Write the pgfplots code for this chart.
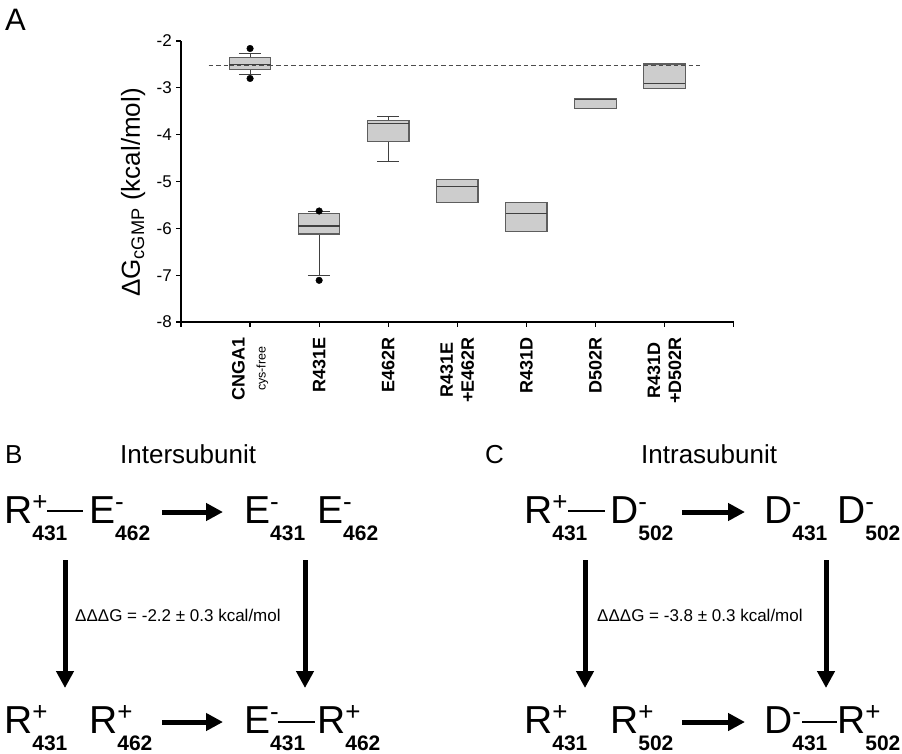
\documentclass[border=0pt]{standalone}
\usepackage{fontspec}
\setmainfont{Liberation Sans}
\usepackage{pgfplots}
\pgfplotsset{compat=1.18}
\usetikzlibrary{arrows.meta}
\definecolor{boxfill}{HTML}{CDCDCD}
\definecolor{boxedge}{HTML}{5E5E5E}
\newcommand{\res}[3]{{\fontsize{39}{40}\selectfont #1}\rlap{\raisebox{13pt}{\fontsize{26}{26}\selectfont #2}}\raisebox{-17pt}{\fontsize{21}{21}\selectfont\bfseries #3}}
\pgfplotsset{
  boxstyle/.style={draw=boxedge, fill=boxfill, line width=1.2pt, line join=miter},
  whisk/.style={draw=black!75, line width=0.9pt},
  med/.style={draw=black!75, line width=1.2pt},
  refline/.style={draw=black!70, dash pattern=on 4.5pt off 3pt, line width=1.1pt},
}
\begin{document}
\begin{tikzpicture}
\useasboundingbox (0,0) rectangle (902pt,753pt);
% ---------- frame axis (pixel coordinates) for panels B and C ----------
\begin{axis}[at={(0pt,0pt)}, anchor=south west, width=902pt, height=753pt,
  scale only axis, xmin=0, xmax=902, ymin=0, ymax=753, y dir=reverse,
  hide axis, clip=false]
\node[anchor=base west, inner sep=0pt, font=\fontsize{31}{31}\selectfont] at (axis cs:5,30) {A};
\node[anchor=base west, inner sep=0pt, font=\fontsize{26}{26}\selectfont] at (axis cs:5,463) {B};
\node[anchor=base west, inner sep=0pt, font=\fontsize{26}{26}\selectfont] at (axis cs:120,463) {Intersubunit};
\node[anchor=base west, inner sep=0pt, font=\fontsize{26}{26}\selectfont] at (axis cs:485,463) {C};
\node[anchor=base west, inner sep=0pt, font=\fontsize{26}{26}\selectfont] at (axis cs:641,463) {Intrasubunit};
% panel B species
\node[anchor=base west, inner sep=0pt] at (axis cs:4,523) {\res{R}{+}{431}};
\node[anchor=base west, inner sep=0pt] at (axis cs:89,523) {\res{E}{-}{462}};
\node[anchor=base west, inner sep=0pt] at (axis cs:244,523) {\res{E}{-}{431}};
\node[anchor=base west, inner sep=0pt] at (axis cs:317,523) {\res{E}{-}{462}};
\node[anchor=base west, inner sep=0pt] at (axis cs:4,733) {\res{R}{+}{431}};
\node[anchor=base west, inner sep=0pt] at (axis cs:89,733) {\res{R}{+}{462}};
\node[anchor=base west, inner sep=0pt] at (axis cs:244,733) {\res{E}{-}{431}};
\node[anchor=base west, inner sep=0pt] at (axis cs:317,733) {\res{R}{+}{462}};
% panel C species
\node[anchor=base west, inner sep=0pt] at (axis cs:524,523) {\res{R}{+}{431}};
\node[anchor=base west, inner sep=0pt] at (axis cs:610,523) {\res{D}{-}{502}};
\node[anchor=base west, inner sep=0pt] at (axis cs:764,523) {\res{D}{-}{431}};
\node[anchor=base west, inner sep=0pt] at (axis cs:837,523) {\res{D}{-}{502}};
\node[anchor=base west, inner sep=0pt] at (axis cs:524,733) {\res{R}{+}{431}};
\node[anchor=base west, inner sep=0pt] at (axis cs:610,733) {\res{R}{+}{502}};
\node[anchor=base west, inner sep=0pt] at (axis cs:764,733) {\res{D}{-}{431}};
\node[anchor=base west, inner sep=0pt] at (axis cs:837,733) {\res{R}{+}{502}};
% bonds
\draw[line width=1.4pt] (axis cs:47,511) -- (axis cs:83,511);
\draw[line width=1.4pt] (axis cs:278,722) -- (axis cs:315,722);
\draw[line width=1.4pt] (axis cs:568,511) -- (axis cs:605,511);
\draw[line width=1.4pt] (axis cs:802,722) -- (axis cs:837,722);
% arrows
\begin{scope}[line width=5pt, -{Triangle[length=17pt,width=17pt]}]
\draw (axis cs:162,512) -- (axis cs:223,512);
\draw (axis cs:162,722) -- (axis cs:223,722);
\draw (axis cs:682,512) -- (axis cs:745,512);
\draw (axis cs:682,722) -- (axis cs:745,722);
\draw (axis cs:65,560) -- (axis cs:65,688);
\draw (axis cs:305,560) -- (axis cs:305,688);
\draw (axis cs:585,560) -- (axis cs:585,688);
\draw (axis cs:826,560) -- (axis cs:826,688);
\end{scope}
\node[anchor=base west, inner sep=0pt, font=\fontsize{17}{17}\selectfont] at (axis cs:75,621) {ΔΔΔG = -2.2 ± 0.3 kcal/mol};
\node[anchor=base west, inner sep=0pt, font=\fontsize{17}{17}\selectfont] at (axis cs:597,621) {ΔΔΔG = -3.8 ± 0.3 kcal/mol};
\end{axis}
% ---------- panel A ----------
\begin{axis}[at={(181pt,431pt)}, anchor=south west, width=552.6pt, height=281pt,
  scale only axis, xmin=0, xmax=8, ymin=-8, ymax=-2,
  axis lines=left, axis line style={-, line width=1.6pt},
  tick align=outside, major tick length=5pt,
  tick style={line width=1.2pt, black},
  xtick={0,1,2,3,4,5,6,7,8},
  xticklabels={,{CNGA1\\{\mdseries\fontsize{12.5}{13}\selectfont cys-free}},R431E,E462R,{R431E\\+E462R},R431D,D502R,{R431D\\+D502R},},
  xticklabel style={rotate=90, anchor=east, align=center, font=\fontsize{18}{21}\selectfont\bfseries, inner sep=10pt},
  ytick={-8,-7,-6,-5,-4,-3,-2},
  yticklabels={-8,-7,-6,-5,-4,-3,-2},
  yticklabel style={font=\fontsize{17}{17}\selectfont, inner sep=4pt},
  ylabel={ΔG\textsubscript{cGMP} (kcal/mol)},
  ylabel style={at={(axis description cs:-0.0742,0.461)}, anchor=base, font=\fontsize{26}{26}\selectfont},
  clip=false]
% reference line (CNGA1 median level)
\addplot[refline] coordinates {(0.4,-2.53) (7.52,-2.53)};
% whiskers
\addplot[whisk] coordinates {(1,-2.35) (1,-2.26)};
\addplot[whisk] coordinates {(0.8375,-2.26) (1.1625,-2.26)};
\addplot[whisk] coordinates {(1,-2.60) (1,-2.71)};
\addplot[whisk] coordinates {(0.8375,-2.71) (1.1625,-2.71)};
\addplot[whisk] coordinates {(2,-5.68) (2,-5.64)};
\addplot[whisk] coordinates {(1.8375,-5.64) (2.1625,-5.64)};
\addplot[whisk] coordinates {(2,-6.12) (2,-7.00)};
\addplot[whisk] coordinates {(1.8375,-7.00) (2.1625,-7.00)};
\addplot[whisk] coordinates {(3,-3.70) (3,-3.62)};
\addplot[whisk] coordinates {(2.8375,-3.62) (3.1625,-3.62)};
\addplot[whisk] coordinates {(3,-4.14) (3,-4.57)};
\addplot[whisk] coordinates {(2.8375,-4.57) (3.1625,-4.57)};
% boxes (lower quartile to upper quartile)
\addplot[boxstyle] coordinates {(0.7,-2.60) (1.3,-2.60) (1.3,-2.35) (0.7,-2.35)} -- cycle;
\addplot[boxstyle] coordinates {(1.7,-6.12) (2.3,-6.12) (2.3,-5.68) (1.7,-5.68)} -- cycle;
\addplot[boxstyle] coordinates {(2.7,-4.14) (3.3,-4.14) (3.3,-3.70) (2.7,-3.70)} -- cycle;
\addplot[boxstyle] coordinates {(3.7,-5.44) (4.3,-5.44) (4.3,-4.96) (3.7,-4.96)} -- cycle;
\addplot[boxstyle] coordinates {(4.7,-6.06) (5.3,-6.06) (5.3,-5.45) (4.7,-5.45)} -- cycle;
\addplot[boxstyle] coordinates {(5.7,-3.44) (6.3,-3.44) (6.3,-3.24) (5.7,-3.24)} -- cycle;
\addplot[boxstyle] coordinates {(6.7,-3.01) (7.3,-3.01) (7.3,-2.49) (6.7,-2.49)} -- cycle;
% medians
\addplot[med] coordinates {(0.7,-2.51) (1.3,-2.51)};
\addplot[med] coordinates {(1.7,-5.95) (2.3,-5.95)};
\addplot[med] coordinates {(2.7,-3.76) (3.3,-3.76)};
\addplot[med] coordinates {(3.7,-5.10) (4.3,-5.10)};
\addplot[med] coordinates {(4.7,-5.68) (5.3,-5.68)};
\addplot[med] coordinates {(5.7,-3.245) (6.3,-3.245)};
\addplot[med] coordinates {(6.7,-2.90) (7.3,-2.90)};
% dashed line over the boxes it crosses
\addplot[refline] coordinates {(0.7,-2.53) (1.3,-2.53)};
\addplot[refline] coordinates {(6.7,-2.53) (7.3,-2.53)};
% outliers
\addplot[only marks, mark=*, mark size=3.3pt, black] coordinates {(1,-2.16) (1,-2.80) (2,-5.63) (2,-7.11)};
\end{axis}
\end{tikzpicture}
\end{document}
